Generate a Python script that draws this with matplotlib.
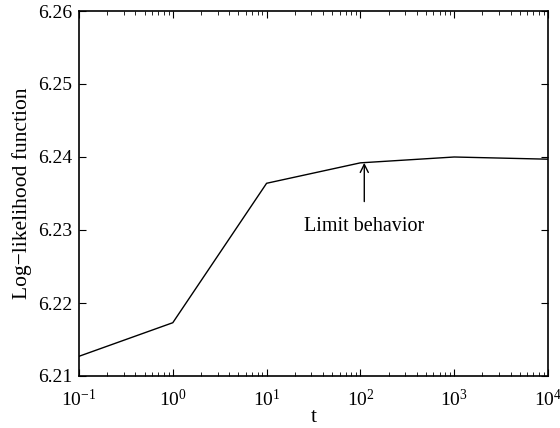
import numpy as np
import matplotlib
matplotlib.use('Agg')
import matplotlib.pyplot as plt

tVals = [1e-1, 1e0, 1e1, 1e2, 1e3, 1e4]
logLik = [6.2127, 6.2173, 6.2364, 6.2392, 6.2400, 6.2397]
yTicks = [6.21, 6.22, 6.23, 6.24, 6.25, 6.26]

plt.rcParams['font.family'] = ['Liberation Serif', 'DejaVu Serif']
plt.rcParams['mathtext.fontset'] = 'stix'

fig = plt.figure(figsize=(5.6, 4.28), dpi=100)
ax = fig.add_axes([79 / 560, 1 - 376 / 428, (548 - 79) / 560, (376 - 11) / 428])

ax.plot(tVals, logLik, color='black', linewidth=1.0)
ax.set_xscale('log')
ax.set_xlim(1e-1, 1e4)
ax.set_ylim(6.21, 6.26)
ax.set_yticks(yTicks)
ax.set_yticklabels([f'{v:.2f}' for v in yTicks])
ax.set_xticks(tVals)

ax.tick_params(which='both', direction='in', top=True, right=True, labelsize=14)
ax.tick_params(axis='x', which='major', pad=9)
ax.tick_params(axis='y', which='major', pad=5)
ax.tick_params(which='major', length=5)
ax.tick_params(which='minor', length=3)
for sp in ax.spines.values():
    sp.set_linewidth(1.2)

ax.set_xlabel('t', fontsize=15.5, labelpad=-1)
ax.set_ylabel('Log\u2212likelihood function', fontsize=15.5, labelpad=4)

ax.annotate('Limit behavior', xy=(110, 6.2392), xytext=(110, 6.2305),
            ha='center', va='center', fontsize=14.5,
            arrowprops=dict(arrowstyle='->', color='black', lw=1.0,
                            shrinkA=9, shrinkB=0))

plt.savefig('out.png', dpi=100)
